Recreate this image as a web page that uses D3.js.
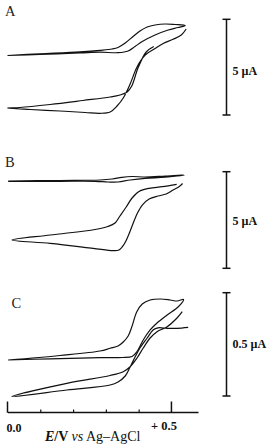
<!DOCTYPE html>
<html>
<head>
<meta charset="utf-8">
<script src="https://cdn.jsdelivr.net/npm/d3@7"></script>
<style>
  body { margin: 0; background: #fff; }
  svg { display: block; font-family: "Liberation Serif", "Times New Roman", serif; }
</style>
</head>
<body>
<div id="chart"></div>
<script>
// potential (V vs Ag-AgCl), current (uA, zero = bottom of each scale bar)
const aUpper = [
  [0, 3.109], [0.099, 3.197], [0.221, 3.302], [0.282, 3.38], [0.319, 3.448],
  [0.337, 3.527], [0.359, 3.762], [0.383, 4.101], [0.404, 4.389], [0.426, 4.598],
  [0.45, 4.702], [0.481, 4.754], [0.511, 4.728], [0.542, 4.676],
  [0.52, 4.572], [0.49, 4.441], [0.45, 4.18], [0.411, 3.84], [0.389, 3.579],
  [0.368, 3.344], [0.337, 3.255], [0.282, 3.281], [0.221, 3.239], [0.099, 3.161], [0, 3.109]
];
const aLower = [
  [0.446, 3.579], [0.423, 3.292], [0.398, 2.456], [0.379, 1.515], [0.365, 1.202],
  [0.343, 1.045], [0.313, 0.94], [0.23, 0.758], [0.13, 0.549], [0.038, 0.392], [0, 0.366],
  [0.069, 0.287], [0.16, 0.209], [0.237, 0.131], [0.282, 0.089], [0.313, 0.157],
  [0.334, 0.47], [0.353, 0.888], [0.374, 1.62], [0.395, 2.508], [0.42, 3.135],
  [0.45, 3.474], [0.475, 3.736], [0.505, 3.955], [0.53, 4.18], [0.545, 4.493]
];
const bUpper = [
  [0.002, 4.519], [0.16, 4.545], [0.282, 4.57], [0.319, 4.622], [0.349, 4.71],
  [0.38, 4.752], [0.42, 4.726], [0.481, 4.777], [0.539, 4.829],
  [0.481, 4.715], [0.42, 4.658], [0.374, 4.57], [0.337, 4.467], [0.307, 4.467],
  [0.267, 4.503], [0.16, 4.503], [0.002, 4.503]
];
const bLower = [
  [0.516, 4.348], [0.472, 4.224], [0.432, 4.141], [0.401, 3.975], [0.38, 3.639],
  [0.362, 3.173], [0.343, 2.707], [0.328, 2.345], [0.306, 2.164], [0.267, 2.008],
  [0.13, 1.724], [0.014, 1.465],
  [0.13, 1.294], [0.261, 1.035], [0.322, 0.911], [0.34, 0.947], [0.356, 1.258],
  [0.368, 1.672], [0.38, 2.189], [0.395, 2.811], [0.411, 3.276], [0.432, 3.587],
  [0.459, 3.742], [0.484, 3.846], [0.505, 4.053], [0.524, 4.234], [0.534, 4.389]
];
const cUpper = [
  [0.002, 0.1742], [0.16, 0.196], [0.282, 0.2178], [0.313, 0.2309], [0.337, 0.242],
  [0.353, 0.2614], [0.368, 0.2904], [0.38, 0.3388], [0.394, 0.4066], [0.411, 0.4453],
  [0.435, 0.4647], [0.466, 0.4695], [0.496, 0.4647], [0.517, 0.4598], [0.537, 0.4671],
  [0.521, 0.4322], [0.487, 0.3921], [0.456, 0.3533], [0.435, 0.3195], [0.414, 0.2711],
  [0.395, 0.2144], [0.38, 0.1912], [0.35, 0.1864], [0.282, 0.1854], [0.13, 0.1801], [0.002, 0.1742]
];
const cLower = [
  [0.533, 0.408], [0.517, 0.3775], [0.487, 0.3354], [0.456, 0.3112], [0.435, 0.2807],
  [0.414, 0.2323], [0.395, 0.1839], [0.374, 0.1418], [0.353, 0.1176], [0.313, 0.0992],
  [0.181, 0.0615], [0.013, -0.0024],
  [0.181, 0.029], [0.313, 0.0532], [0.337, 0.0678], [0.359, 0.0968], [0.374, 0.1404],
  [0.389, 0.1888], [0.404, 0.2323], [0.426, 0.2807], [0.444, 0.3195], [0.459, 0.3301],
  [0.487, 0.3277], [0.517, 0.3277], [0.551, 0.3325]
];

const panelLetters = ["A", "B", "C"];
const barValues = [5, 5, 0.5];
const barLabels = ["5 \u00b5A", "5 \u00b5A", "0.5 \u00b5A"];
const minorTicks = [0.1, 0.2, 0.3, 0.4];
const majorTicks = [0, 0.5];

const width = 270;
const height = 446;

const svg = d3.select("#chart")
  .append("svg")
  .attr("width", width)
  .attr("height", height);

const x = d3.scaleLinear().domain([0, 0.581]).range([7.5, 198]);

const panels = [
  { letter: panelLetters[0], curves: [aUpper, aLower], max: barValues[0], label: barLabels[0],
    range: [115, 19.3], letterX: 5, letterY: 15.5, labelY: 75 },
  { letter: panelLetters[1], curves: [bUpper, bLower], max: barValues[1], label: barLabels[1],
    range: [268.3, 171.7], letterX: 5, letterY: 167, labelY: 225 },
  { letter: panelLetters[2], curves: [cUpper, cLower], max: barValues[2], label: barLabels[2],
    range: [396, 292.7], letterX: 11.5, letterY: 308, labelY: 347.5 }
];

panels.forEach((p) => {
  const y = d3.scaleLinear().domain([0, p.max]).range(p.range);
  const line = d3.line()
    .x((d) => x(d[0]))
    .y((d) => y(d[1]))
    .curve(d3.curveCatmullRom.alpha(0.5));

  const g = svg.append("g");

  g.selectAll("path.cv")
    .data(p.curves)
    .enter()
    .append("path")
    .attr("class", "cv")
    .attr("d", line)
    .attr("fill", "none")
    .attr("stroke", "#111")
    .attr("stroke-width", 1.2)
    .attr("stroke-linejoin", "round");

  g.append("text")
    .attr("x", p.letterX)
    .attr("y", p.letterY)
    .attr("font-size", 14.5)
    .attr("fill", "#222")
    .text(p.letter);

  // current scale bar
  const barX = 226.5;
  const bar = g.append("g").attr("stroke", "#111").attr("stroke-width", 1.5);
  bar.append("line").attr("x1", barX).attr("x2", barX).attr("y1", y(0)).attr("y2", y(p.max));
  [0, p.max].forEach((v) => {
    bar.append("line")
      .attr("x1", barX - 4).attr("x2", barX + 4)
      .attr("y1", y(v)).attr("y2", y(v));
  });

  g.append("text")
    .attr("x", 232.5)
    .attr("y", p.labelY)
    .attr("font-size", 12)
    .attr("font-weight", "bold")
    .attr("fill", "#111")
    .text(p.label);
});

// potential axis
const axisY = 412;
const axisG = svg.append("g")
  .attr("transform", `translate(0,${axisY})`)
  .call(d3.axisTop(x).tickValues(minorTicks).tickSize(2.5).tickSizeOuter(0).tickFormat(""));

axisG.select(".domain").attr("stroke", "#111").attr("stroke-width", 1.5);
axisG.selectAll(".tick line").attr("stroke", "#111").attr("stroke-width", 1.2);

svg.append("g")
  .selectAll("line")
  .data(majorTicks)
  .enter()
  .append("line")
  .attr("x1", (d) => x(d))
  .attr("x2", (d) => x(d))
  .attr("y1", axisY + 0.75)
  .attr("y2", axisY - 10.5)
  .attr("stroke", "#111")
  .attr("stroke-width", 1.5);

svg.append("text")
  .attr("x", x(0) - 1)
  .attr("y", 432)
  .attr("font-size", 12)
  .attr("font-weight", "bold")
  .attr("fill", "#111")
  .text("0.0");

svg.append("text")
  .attr("x", x(0.5) + 5.5)
  .attr("y", 429.5)
  .attr("text-anchor", "end")
  .attr("font-size", 12.5)
  .attr("font-weight", "bold")
  .attr("fill", "#111")
  .text("+ 0.5");

const title = svg.append("text")
  .attr("x", 45)
  .attr("y", 441)
  .attr("font-size", 14)
  .attr("fill", "#111");
title.append("tspan").attr("font-style", "italic").attr("font-weight", "bold").text("E");
title.append("tspan").attr("font-weight", "bold").text("/V ");
title.append("tspan").attr("font-style", "italic").text("vs");
title.append("tspan").text(" Ag\u2013AgCl");
</script>
</body>
</html>
